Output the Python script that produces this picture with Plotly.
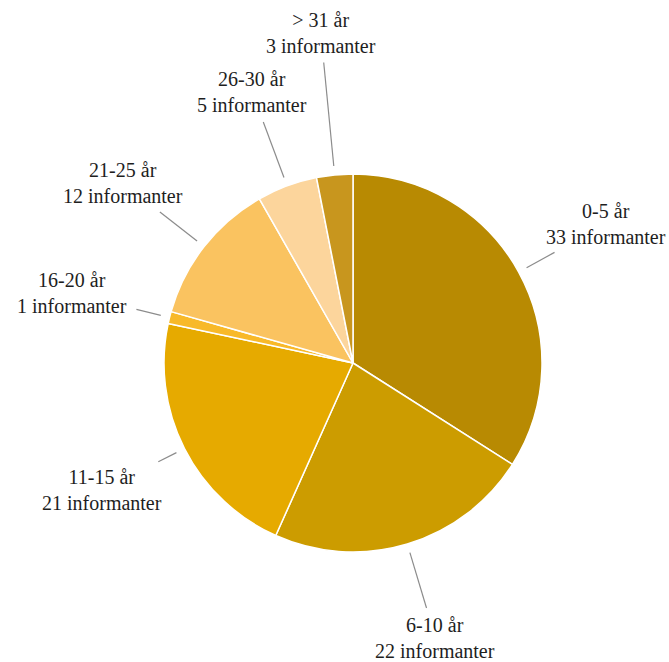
import math
import plotly.graph_objects as go

# ---- data ----
categories = ["0-5 år", "6-10 år", "11-15 år", "16-20 år", "21-25 år", "26-30 år", "> 31 år"]
informants = [33, 22, 21, 1, 12, 5, 3]
colors = ["#B88A02", "#CC9C00", "#E6AA00", "#F8B929", "#FAC360", "#FCD59C", "#C8961E"]

# ---- layout constants (pixels) ----
W, H = 669, 662
CX, CY, R = 353, 363, 189
label_dist = [289, 287, 281, 290, 292, 289, 332]   # radial distance of label centre
line_r0 = 198                                      # leader line start radius
HALF_W, HALF_H, GAP = 62, 27, 3
FONT = "'Liberation Serif', serif"


def px(x):
    return x / W


def py(y):
    return 1 - y / H


fig = go.Figure(go.Pie(
    labels=categories,
    values=informants,
    sort=False,
    direction="clockwise",
    rotation=0,
    marker=dict(colors=colors, line=dict(color="white", width=1.5)),
    textinfo="none",
    hoverinfo="label+value",
    domain=dict(x=[px(CX - R), px(CX + R)], y=[py(CY + R), py(CY - R)]),
    showlegend=False,
))

total = sum(informants)
cum = 0
shapes, annotations = [], []
for i, (cat, v) in enumerate(zip(categories, informants)):
    mid = (cum + v / 2) / total * 2 * math.pi
    cum += v
    sx, sy = math.sin(mid), -math.cos(mid)
    d = label_dist[i]
    lx, ly = CX + d * sx, CY + d * sy
    ext = min(HALF_W / max(abs(sx), 1e-9), HALF_H / max(abs(sy), 1e-9))
    r1 = d - ext - GAP
    shapes.append(dict(
        type="line", xref="paper", yref="paper",
        x0=px(CX + line_r0 * sx), y0=py(CY + line_r0 * sy),
        x1=px(CX + r1 * sx), y1=py(CY + r1 * sy),
        line=dict(color="#8C8C8C", width=1.2),
    ))
    annotations.append(dict(
        xref="paper", yref="paper", x=px(lx), y=py(ly),
        text=f"{cat}<br>{v} informanter", showarrow=False,
        xanchor="center", yanchor="middle", align="center",
        font=dict(family=FONT, size=20, color="#1E1E1E"),
    ))

fig.update_layout(
    width=W, height=H,
    margin=dict(l=0, r=0, t=0, b=0),
    paper_bgcolor="white", plot_bgcolor="white",
    font=dict(family=FONT),
    shapes=shapes, annotations=annotations,
)

fig.write_html(
    "out.html",
    config={"displayModeBar": False},
    post_script="document.body.style.margin='0';document.body.style.overflow='hidden';",
)
